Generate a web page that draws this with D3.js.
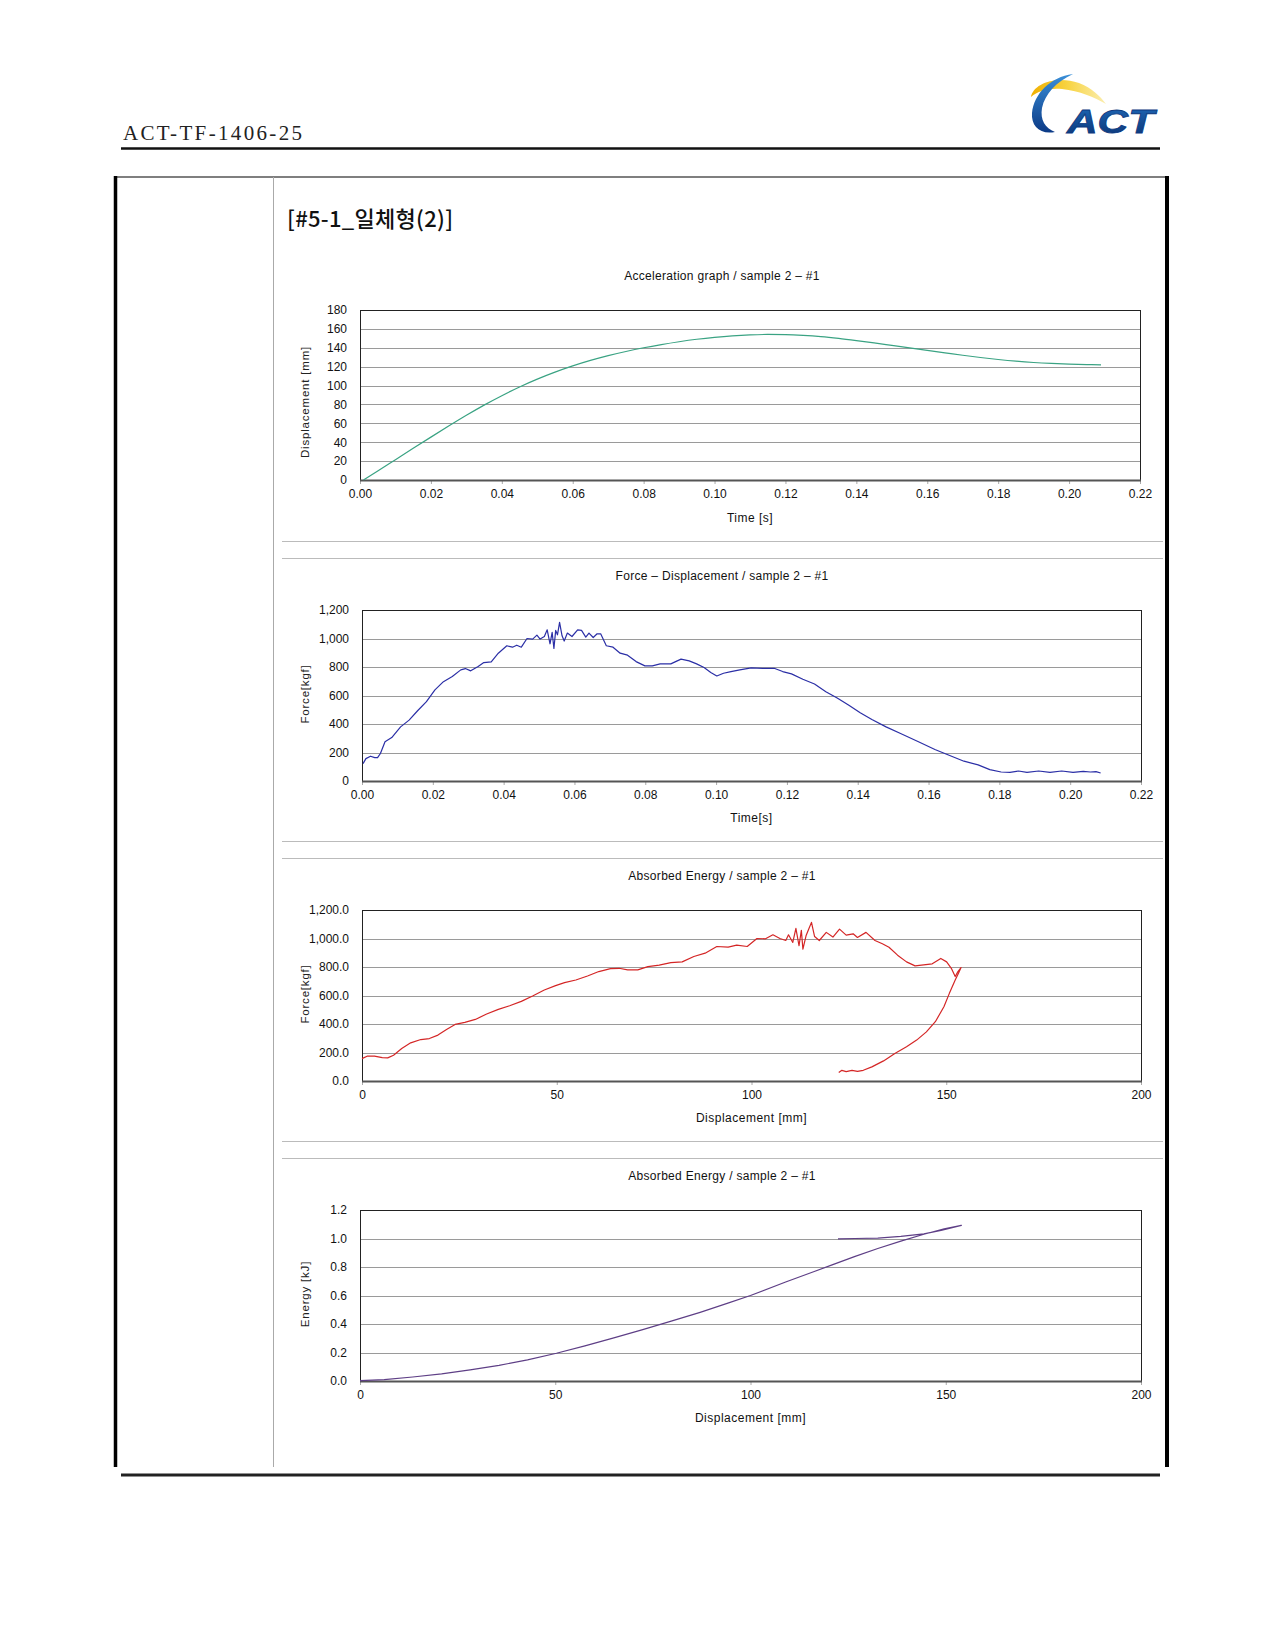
<!DOCTYPE html>
<html><head><meta charset="utf-8">
<script src="https://cdn.jsdelivr.net/npm/d3@7"></script>
<style>body{margin:0;background:#fff}</style>
</head><body>
<script>
// ---------------- DATA ----------------
const docCode = "ACT-TF-1406-25";
const sectionTitle = "[#5-1_일체형(2)]";

// Chart 1: displacement vs time
const accelTime = [0.001,0.005,0.01,0.015,0.02,0.025,0.03,0.035,0.04,0.045,0.05,0.055,0.06,0.065,0.07,0.075,0.08,0.085,0.09,0.095,0.10,0.105,0.11,0.115,0.12,0.125,0.13,0.135,0.14,0.145,0.15,0.155,0.16,0.165,0.17,0.175,0.18,0.185,0.19,0.195,0.20,0.205,0.209];
const accelDisp = [0,9.5,21.5,33.5,45.4,57.1,68.5,79.3,89.3,98.5,106.8,114.2,120.8,126.6,131.7,136.1,140,143.4,146.4,149,151.1,152.7,153.7,154.1,153.9,153.1,151.8,149.9,147.6,145.1,142.5,139.9,137.3,134.7,132.1,129.7,127.6,125.8,124.4,123.4,122.7,122.2,121.9];

// Chart 2: force vs time
const forceTime = [0.0003,0.0011,0.0024,0.0036,0.0044,0.0052,0.0065,0.0084,0.0109,0.0133,
0.0157,0.0182,0.0206,0.023,0.0255,0.0279,0.0292,0.0307,0.0328,0.0344,
0.0365,0.0385,0.0409,0.0425,0.0437,0.045,0.0466,0.0482,0.0494,0.0503,
0.0515,0.0523,0.0531,0.0537,0.0542,0.0547,0.0552,0.0558,0.0565,0.0571,
0.058,0.0593,0.0609,0.062,0.0632,0.0641,0.0653,0.0664,0.0674,0.069,
0.0709,0.0729,0.075,0.0774,0.0799,0.082,0.0842,0.0872,0.0901,0.0924,
0.0945,0.0966,0.0985,0.1002,0.1021,0.1042,0.1067,0.1099,0.1132,0.1164,
0.1188,0.1213,0.1245,0.1278,0.131,0.1342,0.1375,0.1407,0.144,0.148,
0.1521,0.157,0.1618,0.1651,0.17,0.174,0.1773,0.1805,0.183,0.1854,
0.1878,0.1911,0.1943,0.1976,0.2008,0.2037,0.2057,0.2073,0.2086];
const forceVal = [122,157,174,164,164,193,275,305,380,427,
493,557,639,697,733,780,789,773,803,831,
836,897,949,939,953,939,1000,996,1024,996,
1014,1061,963,1043,930,1057,1026,1113,1019,982,
1038,1014,1061,1057,1010,1038,1007,1033,1033,949,
939,897,883,838,808,808,822,822,855,843,
822,796,761,737,756,768,780,794,791,791,
768,752,714,681,627,582,531,479,432,380,
333,277,221,188,139,113,80,63,61,70,
61,70,61,70,61,68,63,66,56];

// Chart 3: force vs displacement (loading then unloading)
const fdDisp = [0,1.3,3.2,5.2,6.6,8.1,10.2,12.5,15.1,17.3,19.5,21.7,23.9,26.4,29.1,32,35,37.9,40.9,43.8,46.8,49.7,52,54.9,57.9,60.8,63.8,66,68.2,70.8,73.4,76.3,79.3,82.2,85.2,88.1,91.1,94,96.2,98.9,101.4,103.6,105.5,107.3,108.8,109.5,110.6,111.4,112.2,112.8,113.2,114,114.7,115.4,116.2,117.4,119.2,120.9,122.6,124.3,126.1,127.2,129.4,131.7,133.6,135.3,137.5,139.8,142,144.2,146.4,148.6,150.1,151.3,152.3,153,153.8,
153.2,152.3,150.8,149.4,147.2,144.9,142.4,139.8,136.8,133.9,130.9,128.7,127.2,125.8,124.3,123.2,122.4];
const fdForce = [157,174,174,164,162,181,228,268,291,298,322,362,397,411,432,470,503,528,559,597,639,669,690,709,737,768,789,791,780,780,803,813,831,836,874,897,944,939,953,944,1000,998,1026,1000,986,1026,972,1071,949,1057,925,1019,1066,1113,1014,986,1043,1010,1066,1024,1033,1007,1043,986,963,939,883,836,808,815,822,860,836,791,733,768,796,
760,709,615,521,416,345,287,240,193,141,99,75,68,75,66,75,59];

// Chart 4: energy vs displacement
const enDisp = [0,6.2,13.5,20.9,28.2,35.6,42.9,50.3,57.6,65,72.4,79.7,87.1,94.4,100,109,116.5,120.9,126.8,132.6,138.5,144.4,149.6,154,148.8,144.4,138.5,132.6,126.8,122.4];
const enVal = [0.003,0.01,0.028,0.05,0.078,0.11,0.148,0.195,0.247,0.303,0.36,0.42,0.482,0.548,0.6,0.695,0.77,0.815,0.875,0.93,0.982,1.03,1.068,1.092,1.057,1.033,1.015,1.003,1.0,0.998];

// Tick labels
const timeTicks = [0,0.02,0.04,0.06,0.08,0.10,0.12,0.14,0.16,0.18,0.20,0.22];
const dispTicks = [0,50,100,150,200];
const accelYTicks = [0,20,40,60,80,100,120,140,160,180];
const forceYTicks = [0,200,400,600,800,1000,1200];
const energyYTicks = [0,0.2,0.4,0.6,0.8,1.0,1.2];

const titles = ["Acceleration graph / sample 2 – #1","Force – Displacement / sample 2 – #1","Absorbed Energy / sample 2 – #1","Absorbed Energy / sample 2 – #1"];
const xLabels = ["Time [s]","Time[s]","Displacement [mm]","Displacement [mm]"];
const yLabels = ["Displacement [mm]","Force[kgf]","Force[kgf]","Energy [kJ]"];

// ---------------- LAYOUT ----------------
const W = 1275, H = 1650;
const svg = d3.select("body").append("svg").attr("width",W).attr("height",H)
  .style("display","block");
svg.append("rect").attr("width",W).attr("height",H).attr("fill","#fff");

const defs = svg.append("defs");
const g1 = defs.append("linearGradient").attr("id","ylw").attr("x1","0").attr("x2","1").attr("y1","0").attr("y2","0");
g1.append("stop").attr("offset","0").attr("stop-color","#f0b000");
g1.append("stop").attr("offset","0.5").attr("stop-color","#f8d443");
g1.append("stop").attr("offset","1").attr("stop-color","#fbeeb0");
const g2 = defs.append("linearGradient").attr("id","blu").attr("x1","0").attr("x2","0").attr("y1","0").attr("y2","1");
g2.append("stop").attr("offset","0").attr("stop-color","#3a8fd8");
g2.append("stop").attr("offset","1").attr("stop-color","#0b3a86");
const g3 = defs.append("linearGradient").attr("id","actg").attr("x1","0").attr("x2","0").attr("y1","0").attr("y2","1");
g3.append("stop").attr("offset","0").attr("stop-color","#1f6bbb");
g3.append("stop").attr("offset","1").attr("stop-color","#0a3273");

// Header
svg.append("text").attr("x",123).attr("y",140).text(docCode)
  .attr("font-family","'Liberation Serif', 'DejaVu Serif', serif").attr("font-size",21)
  .attr("textLength",179).attr("lengthAdjust","spacing").attr("fill","#222");
svg.append("line").attr("x1",121).attr("x2",1160).attr("y1",148.5).attr("y2",148.5)
  .attr("stroke","#111").attr("stroke-width",2.5);

// Logo
const logo = svg.append("g");
logo.append("path").attr("d","M1031,97 C1033,84 1056,75 1079,83 C1092,88 1100,96 1106,104 C1094,97 1080,91 1062,89 C1048,88 1038,91 1031,97 Z").attr("fill","url(#ylw)");
logo.append("path").attr("d","M1073,74 C1050,77 1034,94 1032,113 C1031,126 1040,135 1055,132 C1045,128 1040,120 1042,108 C1045,94 1056,82 1073,74 Z").attr("fill","url(#blu)");
logo.append("text").attr("x",1067).attr("y",133).text("ACT")
  .attr("font-family","'Liberation Sans', Arial, sans-serif").attr("font-weight","bold").attr("font-style","italic")
  .attr("font-size",34).attr("textLength",87).attr("lengthAdjust","spacingAndGlyphs")
  .attr("fill","url(#actg)").attr("stroke","#0d3a80").attr("stroke-width",0.8);

// Table frame
svg.append("line").attr("x1",114).attr("x2",1169).attr("y1",177).attr("y2",177).attr("stroke","#555").attr("stroke-width",1.5);
svg.append("line").attr("x1",115.5).attr("x2",115.5).attr("y1",176).attr("y2",1467).attr("stroke","#000").attr("stroke-width",3.5);
svg.append("line").attr("x1",1167).attr("x2",1167).attr("y1",176).attr("y2",1467).attr("stroke","#000").attr("stroke-width",4);
svg.append("line").attr("x1",273.5).attr("x2",273.5).attr("y1",177).attr("y2",1467).attr("stroke","#aaa").attr("stroke-width",1);
svg.append("line").attr("x1",121).attr("x2",1160).attr("y1",1475).attr("y2",1475).attr("stroke","#222").attr("stroke-width",3);

// Section title
svg.append("text").attr("x",287).attr("y",227).text(sectionTitle)
  .attr("font-family","'Noto Sans CJK KR', sans-serif").attr("font-weight",500).attr("font-size",22)
  .attr("textLength",166).attr("lengthAdjust","spacing").attr("fill","#111");

// Chart separators
[541,558,841,858,1141,1158].forEach(y=>{
  svg.append("line").attr("x1",282).attr("x2",1163).attr("y1",y+0.5).attr("y2",y+0.5).attr("stroke","#bbb").attr("stroke-width",1);
});

const FONT = "'Liberation Sans', Arial, sans-serif";
const charts = [
  {xs:accelTime, ys:accelDisp, xDom:[0,0.22], yDom:[0,180], xT:timeTicks, yT:accelYTicks, xF:d3.format(".2f"), yF:d3.format("d"), color:"#3aa383", curve:d3.curveMonotoneX,
   box:{l:360,r:1140,t:310,b:480}, titleY:276, xLabY:518, yLabY:402},
  {xs:forceTime, ys:forceVal, xDom:[0,0.22], yDom:[0,1200], xT:timeTicks, yT:forceYTicks, xF:d3.format(".2f"), yF:d3.format(","), color:"#2b2fa6", curve:d3.curveLinear,
   box:{l:362,r:1141,t:610,b:781}, titleY:576, xLabY:818, yLabY:694},
  {xs:fdDisp, ys:fdForce, xDom:[0,200], yDom:[0,1200], xT:dispTicks, yT:forceYTicks, xF:d3.format("d"), yF:d3.format(",.1f"), color:"#d42626", curve:d3.curveLinear,
   box:{l:362,r:1141,t:910,b:1081}, titleY:876, xLabY:1118, yLabY:994},
  {xs:enDisp, ys:enVal, xDom:[0,200], yDom:[0,1.2], xT:dispTicks, yT:energyYTicks, xF:d3.format("d"), yF:d3.format(".1f"), color:"#5e3f86", curve:d3.curveLinear,
   box:{l:360,r:1141,t:1210,b:1381}, titleY:1176, xLabY:1418, yLabY:1294}
];

charts.forEach((c,i)=>{
  const b = c.box;
  const x = d3.scaleLinear().domain(c.xDom).range([b.l,b.r]);
  const y = d3.scaleLinear().domain(c.yDom).range([b.b,b.t]);
  const g = svg.append("g");

  // title
  g.append("text").attr("x",722).attr("y",c.titleY).attr("dy","0.35em").attr("text-anchor","middle")
    .attr("font-family",FONT).attr("font-size",12).attr("letter-spacing",0.3).attr("fill","#111").text(titles[i]);

  // plot background
  g.append("rect").attr("x",b.l).attr("y",b.t).attr("width",b.r-b.l).attr("height",b.b-b.t).attr("fill","#fff");

  // grid
  g.selectAll("line.grid").data(c.yT.slice(1,-1)).enter().append("line")
    .attr("x1",b.l).attr("x2",b.r).attr("y1",d=>Math.round(y(d))+0.5).attr("y2",d=>Math.round(y(d))+0.5)
    .attr("stroke","#9a9a9a").attr("stroke-width",1);

  // x axis
  const xa = g.append("g").attr("transform",`translate(0,${b.b})`)
    .call(d3.axisBottom(x).tickValues(c.xT).tickFormat(c.xF).tickSize(4).tickPadding(5));
  xa.select(".domain").remove();
  xa.selectAll(".tick line").attr("stroke","#aaa");
  xa.selectAll("text").attr("font-family",FONT).attr("font-size",12).attr("fill","#111");

  // y axis
  const ya = g.append("g").attr("transform",`translate(${b.l},0)`)
    .call(d3.axisLeft(y).tickValues(c.yT).tickFormat(c.yF).tickSize(0).tickPadding(13));
  ya.select(".domain").remove();
  ya.selectAll("text").attr("font-family",FONT).attr("font-size",12).attr("fill","#111");

  // frame
  g.append("rect").attr("x",b.l+0.5).attr("y",b.t+0.5).attr("width",b.r-b.l).attr("height",b.b-b.t)
    .attr("fill","none").attr("stroke","#222").attr("stroke-width",1);
  g.append("line").attr("x1",b.l).attr("x2",b.r+1).attr("y1",b.b+0.5).attr("y2",b.b+0.5).attr("stroke","#555").attr("stroke-width",2);

  // data line
  const pts = d3.zip(c.xs,c.ys);
  g.append("path").datum(pts)
    .attr("d",d3.line().x(d=>x(d[0])).y(d=>y(d[1])).curve(c.curve))
    .attr("fill","none").attr("stroke",c.color).attr("stroke-width",1.2).attr("stroke-linejoin","round");

  // axis labels
  g.append("text").attr("x",(b.l+b.r)/2).attr("y",c.xLabY).attr("dy","0.35em").attr("text-anchor","middle")
    .attr("font-family",FONT).attr("font-size",12).attr("letter-spacing",0.5).attr("fill","#111").text(xLabels[i]);
  g.append("text").attr("transform",`translate(305,${c.yLabY}) rotate(-90)`).attr("dy","0.35em").attr("text-anchor","middle")
    .attr("font-family",FONT).attr("font-size",11.5).attr("letter-spacing",0.8).attr("fill","#222").text(yLabels[i]);
});
</script>
</body></html>
